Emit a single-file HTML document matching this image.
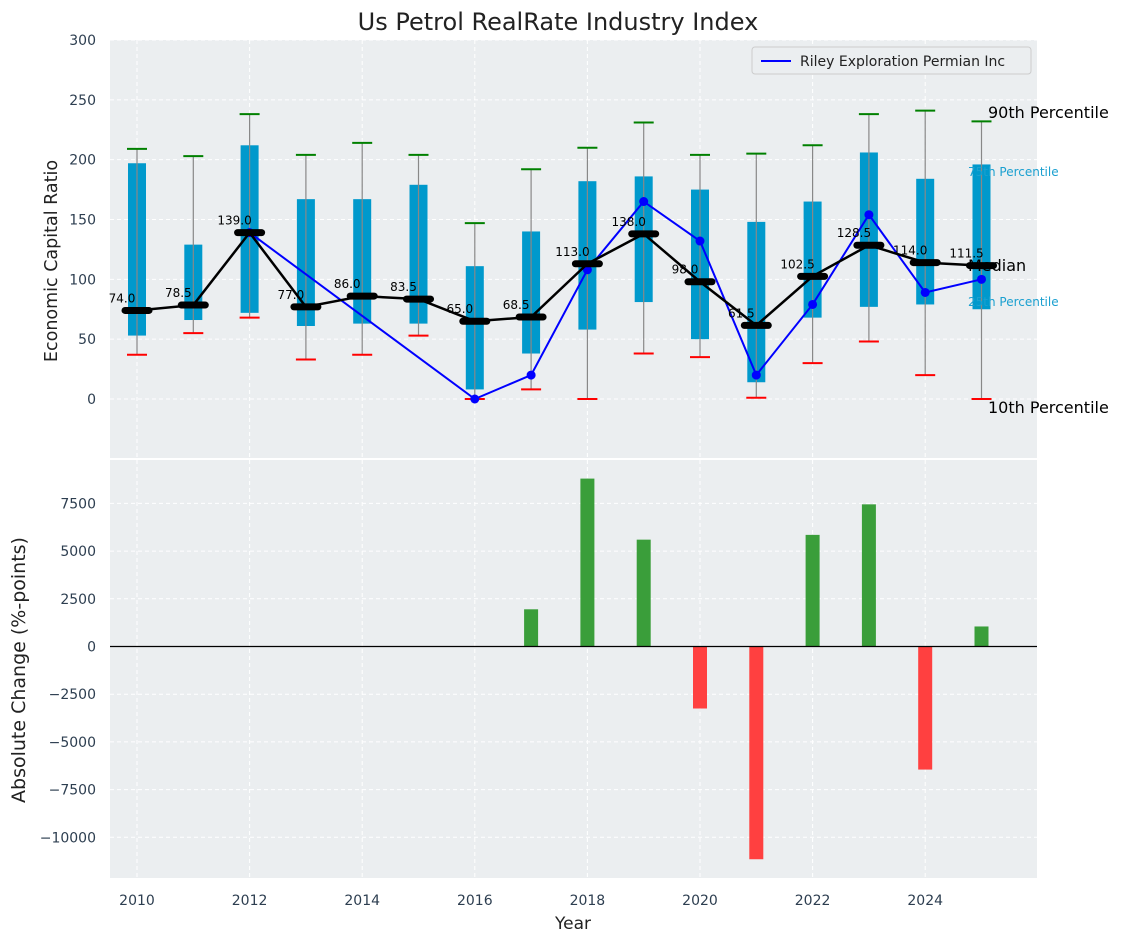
<!DOCTYPE html>
<html><head><meta charset="utf-8"><style>
html,body{margin:0;padding:0;background:#fff;}
svg{display:block;font-family:"DejaVu Sans","Liberation Sans",sans-serif;}
</style></head><body>
<svg id="chart" width="1123" height="942" viewBox="0 0 1123 942">
<text x="558" y="30" font-size="24" text-anchor="middle" fill="#222">Us Petrol RealRate Industry Index</text>
<rect x="110" y="40" width="927" height="418" fill="#ebeef0"/>
<rect x="110" y="460" width="927" height="418" fill="#ebeef0"/>
<g id="grid"></g>
<g id="top"></g>
<g id="bottom"></g>
<g id="axes"></g>
<text transform="translate(57,261) rotate(-90)" font-size="17.5" text-anchor="middle" fill="#222">Economic Capital Ratio</text>
<text transform="translate(25,670) rotate(-90)" font-size="19" text-anchor="middle" fill="#222">Absolute Change (%-points)</text>
<text x="573" y="929" font-size="17" text-anchor="middle" fill="#222">Year</text>
<g>
<rect x="752" y="47" width="279" height="27" rx="3" fill="#ebeef0" stroke="#ccc"/>
<line x1="761" y1="61" x2="791" y2="61" stroke="blue" stroke-width="2"/>
<text x="800" y="66" font-size="14" fill="#222">Riley Exploration Permian Inc</text>
</g>
<text x="988" y="118" font-size="16" fill="#000">90th Percentile</text>
<text x="968" y="176" font-size="12" fill="#1ba0d0">75th Percentile</text>
<text x="968" y="271" font-size="16" fill="#000">Median</text>
<text x="968" y="306" font-size="12" fill="#1ba0d0">25th Percentile</text>
<text x="988" y="413" font-size="16" fill="#000">10th Percentile</text>
</svg>
<script>
const years=[2010,2011,2012,2013,2014,2015,2016,2017,2018,2019,2020,2021,2022,2023,2024,2025];
const q1=[53,66,72,61,63,63,8,38,58,81,50,14,68,77,79,75];
const q3=[197,129,212,167,167,179,111,140,182,186,175,148,165,206,184,196];
const p10=[37,55,68,33,37,53,0,8,0,38,35,1,30,48,20,0];
const p90=[209,203,238,204,214,204,147,192,210,231,204,205,212,238,241,232];
const medians=[74,78.5,139,77,86,83.5,65,68.5,113,138,98,61.5,102.5,128.5,114,111.5];
const blueYears=[2012,2016,2017,2018,2019,2020,2021,2022,2023,2024,2025];
const blueVals=[139,0,20,108,165,132,20,79,154,89,100];
const changeYears=[2017,2018,2019,2020,2021,2022,2023,2024,2025];
const changes=[1950,8800,5600,-3250,-11150,5850,7450,-6450,1050];
const topTicks=[0,50,100,150,200,250,300];
const botTicks=[-10000,-7500,-5000,-2500,0,2500,5000,7500];
const xTicks=[2010,2012,2014,2016,2018,2020,2022,2024];

const NS="http://www.w3.org/2000/svg";
function X(y){return 137+(y-2010)*56.3;}
function YT(v){return 399-v*1.1967;}
function YB(v){return 646.5-v*0.01908;}
function mk(parent,tag,attrs){const e=document.createElementNS(NS,tag);for(const k in attrs)e.setAttribute(k,attrs[k]);document.getElementById(parent).appendChild(e);return e;}

xTicks.forEach(t=>{
 let g=mk('grid','line',{x1:X(t),x2:X(t),y1:40,y2:458,stroke:'#fff','stroke-dasharray':'4,3','stroke-width':1});
 
 g=mk('grid','line',{x1:X(t),x2:X(t),y1:460,y2:878,stroke:'#fff','stroke-dasharray':'4,3','stroke-width':1});
 
 const l=mk('axes','text',{x:X(t),y:905,'font-size':14,'text-anchor':'middle',fill:'#2d3e50'});l.textContent=t;
 
});
topTicks.forEach(t=>{
 const g=mk('grid','line',{x1:110,x2:1037,y1:YT(t),y2:YT(t),stroke:'#fff','stroke-dasharray':'4,3'});
 
 const l=mk('axes','text',{x:96,y:YT(t)+5,'font-size':14,'text-anchor':'end',fill:'#2d3e50'});l.textContent=t;
 
});
botTicks.forEach(t=>{
 const g=mk('grid','line',{x1:110,x2:1037,y1:YB(t),y2:YB(t),stroke:'#fff','stroke-dasharray':'4,3'});
 
 const l=mk('axes','text',{x:96,y:YB(t)+5,'font-size':14,'text-anchor':'end',fill:'#2d3e50'});l.textContent=String(t).replace('-','\u2212');
 
});

years.forEach((yr,i)=>{
 const x=X(yr);
 let e=mk('top','rect',{x:x-9,y:YT(q3[i]),width:18,height:YT(q1[i])-YT(q3[i]),fill:'#0099cc'});
 
 e=mk('top','line',{x1:x,x2:x,y1:YT(p10[i]),y2:YT(p90[i]),stroke:'#888','stroke-width':1.2});
 
 e=mk('top','line',{x1:x-10,x2:x+10,y1:YT(p90[i]),y2:YT(p90[i]),stroke:'green','stroke-width':2});
 
 e=mk('top','line',{x1:x-10,x2:x+10,y1:YT(p10[i]),y2:YT(p10[i]),stroke:'red','stroke-width':2});
 
});
let bp='';blueYears.forEach((y,i)=>{bp+=(i?'L':'M')+X(y)+','+YT(blueVals[i]);});
let e=mk('top','path',{d:bp,fill:'none',stroke:'blue','stroke-width':2});

blueYears.forEach((y,i)=>{const c=mk('top','circle',{cx:X(y),cy:YT(blueVals[i]),r:4.5,fill:'blue'});
 });
let mp='';years.forEach((y,i)=>{mp+=(i?'L':'M')+X(y)+','+YT(medians[i]);});
e=mk('top','path',{d:mp,fill:'none',stroke:'#000','stroke-width':2.5});

years.forEach((y,i)=>{
 const x=X(y),yy=YT(medians[i]);
 let m=mk('top','line',{x1:x-12,x2:x+12,y1:yy,y2:yy,stroke:'#000','stroke-width':7,'stroke-linecap':'round'});
 
 let t=mk('top','text',{x:x-15,y:yy-8,'font-size':12,'text-anchor':'middle',fill:'#000'});t.textContent=medians[i].toFixed(1);
 
});
changeYears.forEach((y,i)=>{
 const v=changes[i];const y0=YB(0),y1=YB(v);
 const r=mk('bottom','rect',{x:X(y)-7,y:Math.min(y0,y1),width:14,height:Math.abs(y1-y0),fill:v>=0?'#3a9e3a':'#ff4040'});
 
});
e=mk('bottom','line',{x1:110,x2:1037,y1:YB(0),y2:YB(0),stroke:'#000','stroke-width':1.2});

</script>
</body></html>
